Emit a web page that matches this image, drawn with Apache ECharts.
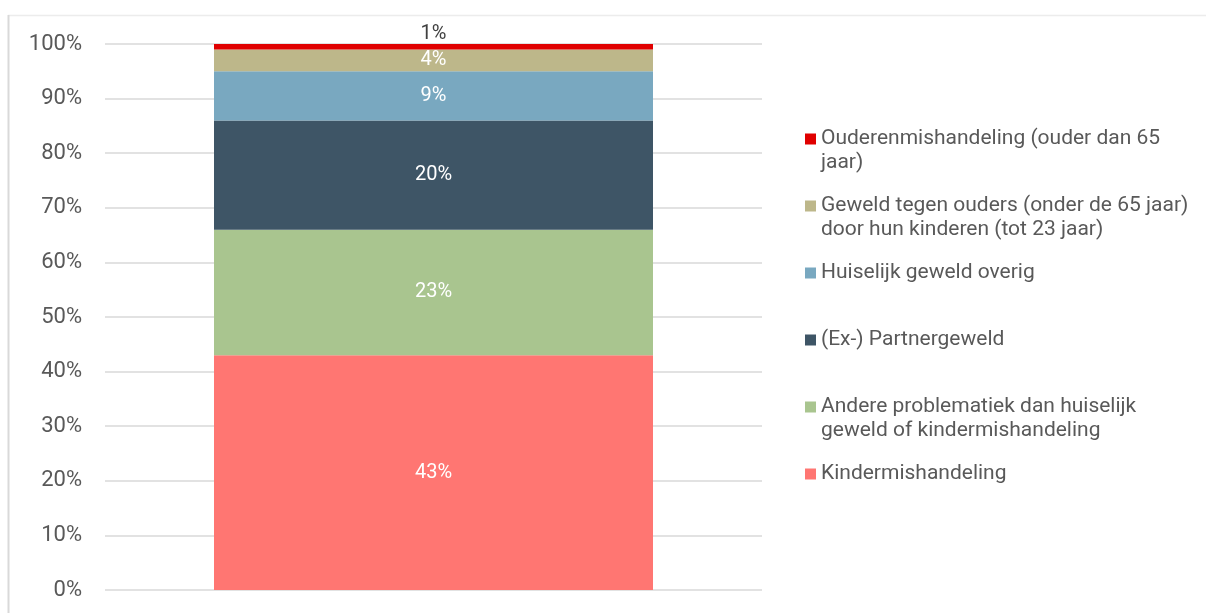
<!DOCTYPE html>
<html>
<head>
<meta charset="utf-8">
<script src="https://cdn.jsdelivr.net/npm/echarts@6/dist/echarts.min.js"></script>
<style>
html,body{margin:0;padding:0;background:#fff;}
#chart{width:1206px;height:613px;}
</style>
</head>
<body>
<div id="chart"></div>
<script>
// data, bottom to top of the stack
var categories = [''];
var names = [
	'Kindermishandeling',
	'Andere problematiek dan huiselijk geweld of kindermishandeling',
	'(Ex-) Partnergeweld',
	'Huiselijk geweld overig',
	'Geweld tegen ouders (onder de 65 jaar) door hun kinderen (tot 23 jaar)',
	'Ouderenmishandeling (ouder dan 65 jaar)'
];
var values = [43, 23, 20, 9, 4, 1];
var colors = ['#ff7672', '#a9c58f', '#3e5566', '#79a8c0', '#bdb78a', '#e00000'];
// how the legend text wraps
var legendLines = [
	['Kindermishandeling'],
	['Andere problematiek dan huiselijk', 'geweld of kindermishandeling'],
	['(Ex-) Partnergeweld'],
	['Huiselijk geweld overig'],
	['Geweld tegen ouders (onder de 65 jaar)', 'door hun kinderen (tot 23 jaar)'],
	['Ouderenmishandeling (ouder dan 65', 'jaar)']
];
var yTicks = [0, 100, 10];

var font = 'Roboto';
var lh = 24;

var chart = echarts.init(document.getElementById('chart'));

var series = [], legends = [];
for (var i = 0; i < names.length; i++) {
	var last = i == names.length - 1;
	series.push({
		name: names[i],
		type: 'bar',
		stack: 'total',
		barWidth: 439,
		data: [values[i]],
		itemStyle: {color: colors[i]},
		label: {
			show: true,
			position: last ? 'top' : 'inside',
			distance: 0,
			color: last ? '#404040' : '#fff',
			fontFamily: font,
			fontSize: 20,
			formatter: function (p) { return p.value + '%'; }
		}
	});
	var lines = legendLines[i];
	var multi = lines.length > 1;
	// legend is drawn top-down in reverse order, first text line level with the icon
	var row = names.length - 1 - i;
	var center = 139 + row * 67;
	legends.push({
		data: [names[i]],
		left: 805,
		top: center - (multi ? 1.5 * lh : lh / 2),
		padding: 0,
		itemWidth: 11,
		itemHeight: 11,
		itemGap: 0,
		icon: 'rect',
		// empty first line keeps the icon level with the first text line
		formatter: (function (l) { return function () { return l.length > 1 ? '\n' + l.join('\n') : l[0]; }; })(lines),
		textStyle: {
			color: '#595959',
			fontFamily: font,
			fontSize: 21,
			lineHeight: lh
		}
	});
}

chart.setOption({
	animation: false,
	grid: {left: 105, right: 444, top: 44, bottom: 23},
	xAxis: {
		type: 'category',
		data: categories,
		axisLine: {show: false},
		axisTick: {show: false},
		axisLabel: {show: false}
	},
	yAxis: {
		type: 'value',
		min: yTicks[0],
		max: yTicks[1],
		interval: yTicks[2],
		axisLine: {show: false},
		axisTick: {show: false},
		axisLabel: {
			formatter: '{value}%',
			color: '#595959',
			fontFamily: font,
			fontSize: 22,
			margin: 23
		},
		splitLine: {lineStyle: {color: '#d9d9d9', width: 1.5}}
	},
	legend: legends,
	graphic: [
		{type: 'line', shape: {x1: 8, y1: 15.5, x2: 1206, y2: 15.5}, style: {stroke: '#ececec', lineWidth: 1.5}},
		{type: 'line', shape: {x1: 8.5, y1: 15, x2: 8.5, y2: 613}, style: {stroke: '#d9d9d9', lineWidth: 2}}
	],
	series: series
});
</script>
</body>
</html>
